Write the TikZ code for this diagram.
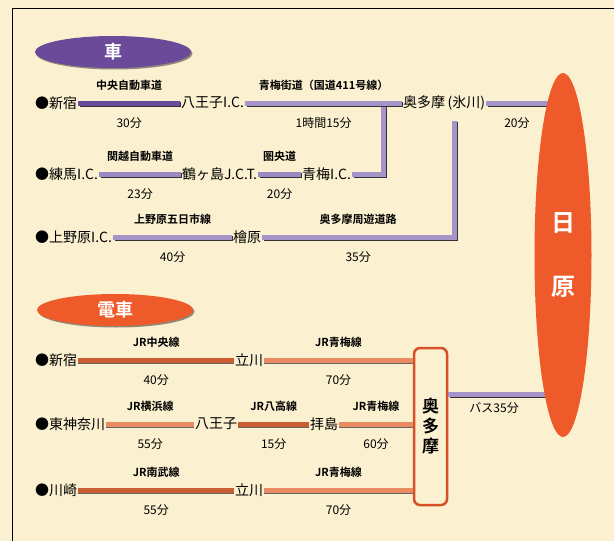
\documentclass[tikz,border=0pt]{standalone}
\usepackage{fontspec}
\setmainfont{Noto Sans CJK JP}[BoldFont={Noto Sans CJK JP Bold}]
\usepackage{tikz}
\usetikzlibrary{positioning,shapes.geometric,shadows}
\pgfdeclarelayer{front}
\pgfsetlayers{main,front}
\definecolor{paper}{HTML}{FBF0CF}
\definecolor{purp}{HTML}{6C4A9A}
\definecolor{lav}{HTML}{A593C9}
\definecolor{rustline}{HTML}{CB5D33}
\definecolor{salmon}{HTML}{E98A62}
\definecolor{orng}{HTML}{EE5A29}
\tikzset{
  stn/.style   = {anchor=west, inner sep=1pt, font=\fontsize{14}{16}\selectfont},
  lbl/.style   = {above=9pt, inner sep=1pt, font=\fontsize{11}{13}\selectfont\bfseries},
  tm/.style    = {below=11pt, inner sep=1pt, font=\fontsize{12}{14}\selectfont},
  road/.style  = {line width=5pt, draw=lav,
                  preaction={draw=black!80, line width=5pt, transform canvas={shift={(1.3pt,-1.3pt)}}}},
  rail/.style  = {line width=5pt, draw=salmon,
                  preaction={draw=black!60, line width=5pt, transform canvas={shift={(0pt,-1.2pt)}}}},
  hdr/.style   = {ellipse, minimum width=156pt, minimum height=32pt, inner sep=0pt, text=white,
                  font=\fontsize{18}{20}\selectfont\bfseries,
                  drop shadow={shadow xshift=1.5pt, shadow yshift=-1.5pt, fill=black!85}},
}

\begin{document}
\begin{tikzpicture}[x=1pt,y=-1pt]
  \useasboundingbox (0,0) rectangle (614,541);
  \fill[paper] (0,0) rectangle (614,541);
  \draw[line width=0.8pt] (12,541) -- (12,8) -- (614,8);

  % destination
  \begin{pgfonlayer}{front}
    \node[ellipse, fill=orng, minimum width=57pt, minimum height=364pt, inner sep=0pt,
          text=white, align=center, font=\fontsize{24}{64}\selectfont\bfseries] (hin) at (563,255) {日\\原};
  \end{pgfonlayer}

  % by car
  \node[hdr, fill=purp] (hCar) at (113,52) {車};
  \node[stn] (cShin)  at (34,103)  {●新宿};
  \node[stn] (cHachi) at (180,103) {八王子I.C.};
  \node[stn] (cOku)   at (402,103) {奥多摩\,(氷川)};
  \node[stn] (cNeri)  at (34,174)  {●練馬I.C.};
  \node[stn] (cTsuru) at (181,174) {鶴ヶ島J.C.T.};
  \node[stn] (cOme)   at (301,174) {青梅I.C.};
  \node[stn] (cUeno)  at (34,237)  {●上野原I.C.};
  \node[stn] (cHino)  at (232,237) {檜原};
  \coordinate (jOme)  at (383,103);
  \coordinate (jHino) at (454,121);

  \draw[road] (cOme.east) -| (jOme);
  \draw[road] (cHino.east) -| node[pos=0.25, lbl] {奥多摩周遊道路} node[pos=0.25, tm] {35分} (jHino);
  \draw[road, draw=purp] (cShin.east) -- node[lbl] {中央自動車道} node[tm] {30分} (cHachi.west);
  \draw[road] (cHachi.east) -- node[lbl] {青梅街道（国道411号線）} node[tm] {1時間15分} (cOku.west);
  \draw[road] (cOku.east) -- node[pos=0.4, tm] {20分} (hin.center |- cOku.east);
  \draw[road, draw=lav!85!purp] (cNeri.east) -- node[lbl] {関越自動車道} node[tm] {23分} (cTsuru.west);
  \draw[road, draw=lav!85!purp] (cTsuru.east) -- node[lbl] {圏央道} node[tm] {20分} (cOme.west);
  \draw[road] (cUeno.east) -- node[lbl] {上野原五日市線} node[tm] {40分} (cHino.west);

  % by train
  \node[hdr, fill=orng] (hRail) at (115,310) {電車};
  \node[draw=orng!90!black, line width=2.5pt, rounded corners=6pt, fill=paper,
        minimum width=33pt, minimum height=157pt, inner sep=0pt, align=center,
        font=\fontsize{17}{20}\selectfont\bfseries] (okt) at (430.5,426.5) {奥\\多\\摩};
  \node[stn] (tShin)    at (34,360)  {●新宿};
  \node[stn] (tTachi)   at (234,360) {立川};
  \node[stn] (tHigashi) at (34,424)  {●東神奈川};
  \node[stn] (tHachi)   at (194,424) {八王子};
  \node[stn] (tHaij)    at (309,424) {拝島};
  \node[stn] (tKawa)    at (34,490)  {●川崎};
  \node[stn] (tTachiB)  at (234,490) {立川};

  \draw[rail, draw=rustline] (tShin.east) -- node[lbl] {JR中央線} node[tm] {40分} (tTachi.west);
  \draw[rail] (tTachi.east) -- node[lbl] {JR青梅線} node[tm] {70分} (tTachi.east -| okt.west);
  \draw[rail] (tHigashi.east) -- node[lbl] {JR横浜線} node[tm] {55分} (tHachi.west);
  \draw[rail, draw=rustline] (tHachi.east) -- node[lbl] {JR八高線} node[tm] {15分} (tHaij.west);
  \draw[rail] (tHaij.east) -- node[lbl] {JR青梅線} node[tm] {60分} (tHaij.east -| okt.west);
  \draw[rail, draw=rustline] (tKawa.east) -- node[lbl] {JR南武線} node[tm] {55分} (tTachiB.west);
  \draw[rail] (tTachiB.east) -- node[lbl] {JR青梅線} node[tm] {70分} (tTachiB.east -| okt.west);
  \draw[road] (okt.east |- 0,394) -- node[pos=0.4, tm, below=5pt] {バス35分} (hin.center |- 0,394);
\end{tikzpicture}
\end{document}
